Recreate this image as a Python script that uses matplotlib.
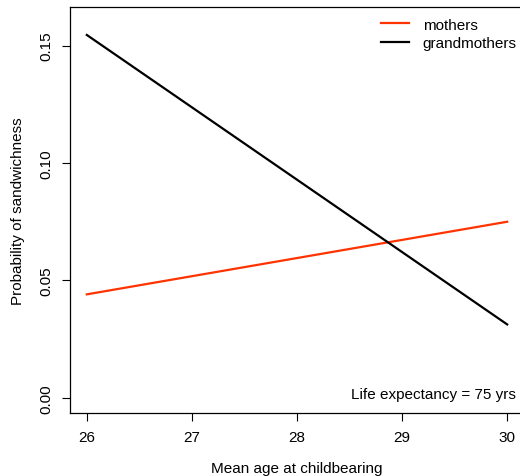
import matplotlib.pyplot as plt

plt.rcParams['font.family'] = ['Liberation Sans', 'DejaVu Sans']
plt.rcParams['font.size'] = 11

age = [26, 30]
mothers = [0.0441, 0.0750]
grandmothers = [0.1545, 0.0313]

fig = plt.figure(figsize=(5.2, 4.77), dpi=100)
# axes box runs a little past the right edge, like the original
ax = fig.add_axes([70 / 520, 1 - 414 / 477, 454 / 520, 406 / 477])

ax.plot(age, mothers, color='#ff3300', lw=1.6, label='mothers')
ax.plot(age, grandmothers, color='black', lw=1.6, label='grandmothers')

ax.set_xlim(25.84, 30.16)
ax.set_ylim(-0.0064, 0.1664)
ax.set_xticks([26, 27, 28, 29, 30])
ax.set_yticks([0.00, 0.05, 0.10, 0.15])
ax.set_yticklabels(['0.00', '0.05', '0.10', '0.15'], rotation=90, va='center')
ax.tick_params(direction='out', length=6, width=0.8, pad=6)
for s in ax.spines.values():
    s.set_linewidth(0.9)

ax.set_xlabel('Mean age at childbearing', labelpad=12.5)
ax.set_ylabel('Probability of sandwichness', labelpad=10)

ax.legend(loc='upper left', bbox_to_anchor=(300 / 454, 1.0), frameon=False,
          handlelength=1.85, handletextpad=0.9, labelspacing=0.3, borderaxespad=0.3)
ax.text(30.0 + 9 / 105, 0.0016, 'Life expectancy = 75 yrs', ha='right', va='center')

fig.savefig('out.png', dpi=100)
